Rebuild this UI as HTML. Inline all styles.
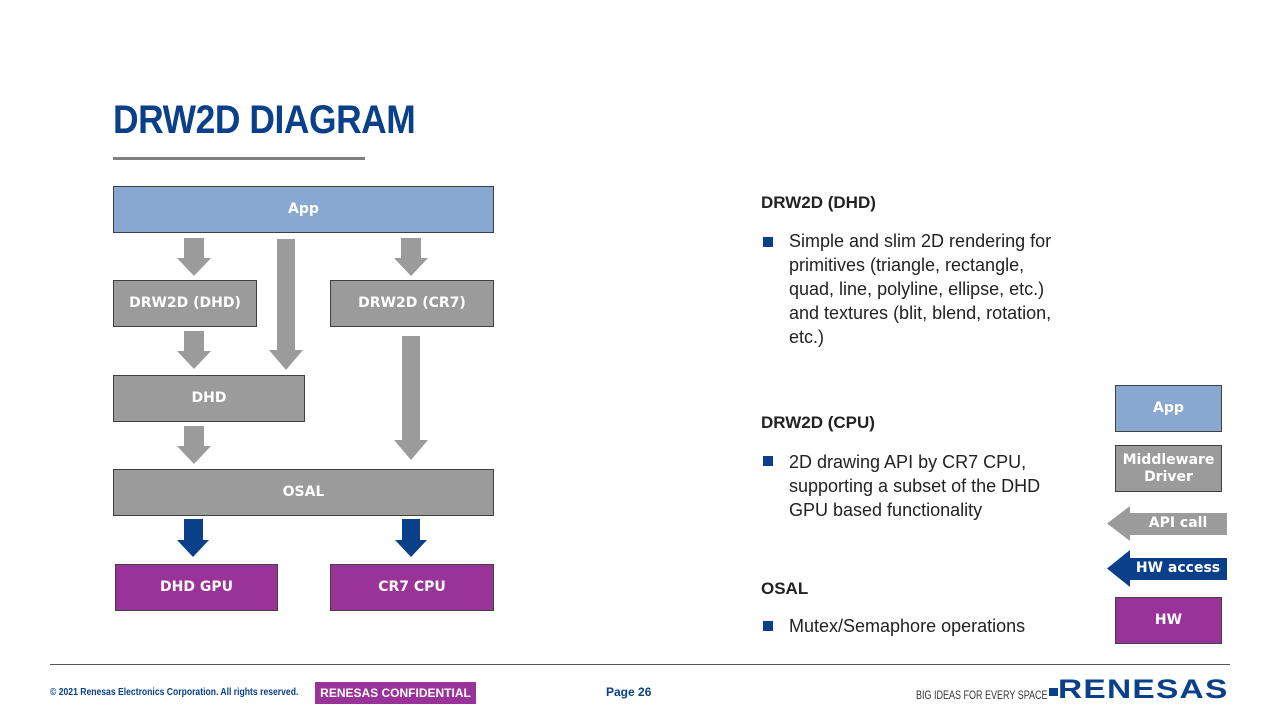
<!DOCTYPE html>
<html><head><meta charset="utf-8"><style>
body{margin:0;width:1280px;height:720px;position:relative;background:#fff;font-family:"Liberation Sans",Arial,sans-serif;overflow:hidden}
.b{position:absolute;box-sizing:border-box;border:1px solid #404040;color:#fff;font-family:"DejaVu Sans",sans-serif;font-weight:bold;font-size:14px;display:flex;align-items:center;justify-content:center;text-align:center;line-height:17px}
.g{background:#9b9b9b}.a{background:#88a8d2}.p{background:#993399}
.t{position:absolute;font-family:"Liberation Sans",Arial,sans-serif;font-size:18px;color:#222;line-height:24px}
.h{position:absolute;font-family:"Liberation Sans",Arial,sans-serif;font-size:17px;font-weight:bold;color:#222}
.sq{position:absolute;width:10px;height:10px;background:#0a3f8a}
</style></head><body>
<div style="position:absolute;left:113px;top:98px;font-size:40px;font-weight:bold;color:#0a3f8a;transform:scaleX(0.885);transform-origin:left;letter-spacing:-0.5px;white-space:nowrap">DRW2D DIAGRAM</div>
<div style="position:absolute;left:113px;top:157px;width:252px;height:3px;background:#808080"></div>

<svg style="position:absolute;left:0;top:0" width="1280" height="720">
<g fill="#9b9b9b">
<polygon points="184,238 204,238 204,258 211,258 194,276 177,258 184,258"/>
<polygon points="401,238 421,238 421,258 428,258 411,276 394,258 401,258"/>
<polygon points="277,239 295,239 295,350 303,350 286,370 269,350 277,350"/>
<polygon points="184,331 204,331 204,351 211,351 194,369 177,351 184,351"/>
<polygon points="184,426 204,426 204,446 211,446 194,464 177,446 184,446"/>
<polygon points="402,336 420,336 420,440 428,440 411,460 394,440 402,440"/>
<polygon points="1227,513 1130,513 1130,506 1107,523.5 1130,541 1130,535 1227,535"/>
</g>
<g fill="#0a3f8a">
<polygon points="184,519 203,519 203,540 209,540 193,557 177,540 184,540"/>
<polygon points="402,519 420,519 420,540 427,540 411,557 395,540 402,540"/>
<polygon points="1227,558 1130,558 1130,550 1107,568.5 1130,587 1130,580 1227,580"/>
</g>
</svg>

<div class="b a" style="left:113px;top:186px;width:381px;height:47px">App</div>
<div class="b g" style="left:113px;top:280px;width:144px;height:47px">DRW2D (DHD)</div>
<div class="b g" style="left:330px;top:280px;width:164px;height:47px">DRW2D (CR7)</div>
<div class="b g" style="left:113px;top:375px;width:192px;height:47px">DHD</div>
<div class="b g" style="left:113px;top:469px;width:381px;height:47px">OSAL</div>
<div class="b p" style="left:115px;top:564px;width:163px;height:47px">DHD GPU</div>
<div class="b p" style="left:330px;top:564px;width:164px;height:47px">CR7 CPU</div>

<div class="b a" style="left:1115px;top:385px;width:107px;height:47px">App</div>
<div class="b g" style="left:1115px;top:445px;width:107px;height:47px">Middleware<br>Driver</div>
<div style="position:absolute;left:1128px;top:515px;width:100px;text-align:center;color:#fff;font-family:'DejaVu Sans',sans-serif;font-weight:bold;font-size:14px">API call</div>
<div style="position:absolute;left:1128px;top:560px;width:100px;text-align:center;color:#fff;font-family:'DejaVu Sans',sans-serif;font-weight:bold;font-size:14px">HW access</div>
<div class="b p" style="left:1115px;top:597px;width:107px;height:47px">HW</div>

<div class="h" style="left:761px;top:193px">DRW2D (DHD)</div>
<div class="sq" style="left:763px;top:237px"></div>
<div class="t" style="left:789px;top:229px;width:278px">Simple and slim 2D rendering for primitives (triangle, rectangle, quad, line, polyline, ellipse, etc.) and textures (blit, blend, rotation, etc.)</div>
<div class="h" style="left:761px;top:413px">DRW2D (CPU)</div>
<div class="sq" style="left:763px;top:456px"></div>
<div class="t" style="left:789px;top:450px;width:270px">2D drawing API by CR7 CPU, supporting a subset of the DHD GPU based functionality</div>
<div class="h" style="left:761px;top:579px">OSAL</div>
<div class="sq" style="left:763px;top:621px"></div>
<div class="t" style="left:789px;top:614px;white-space:nowrap">Mutex/Semaphore operations</div>

<div style="position:absolute;left:50px;top:664px;width:1180px;height:1px;background:#555"></div>
<div style="position:absolute;left:50px;top:687px;font-size:10px;font-weight:bold;color:#0a3f8a;transform:scaleX(0.86);transform-origin:left;white-space:nowrap">© 2021 Renesas Electronics Corporation. All rights reserved.</div>
<div style="position:absolute;left:315px;top:682px;width:161px;height:22px;background:#993399;color:#fff;font-size:12px;font-weight:bold;text-align:center;line-height:22px;white-space:nowrap">RENESAS CONFIDENTIAL</div>
<div style="position:absolute;left:606px;top:685px;font-size:12px;font-weight:bold;color:#0a3f8a">Page 26</div>
<div style="position:absolute;left:916px;top:688px;font-size:12px;color:#333;transform:scaleX(0.75);transform-origin:left;white-space:nowrap">BIG IDEAS FOR EVERY SPACE</div>
<div style="position:absolute;left:1049px;top:688px;width:9px;height:8px;background:#0a3f8a"></div>
<div style="position:absolute;left:1058px;top:674px;font-size:27px;font-weight:bold;color:#0a3f8a;letter-spacing:1px;transform:scaleX(1.24);transform-origin:left;white-space:nowrap">RENESAS</div>
</body></html>
